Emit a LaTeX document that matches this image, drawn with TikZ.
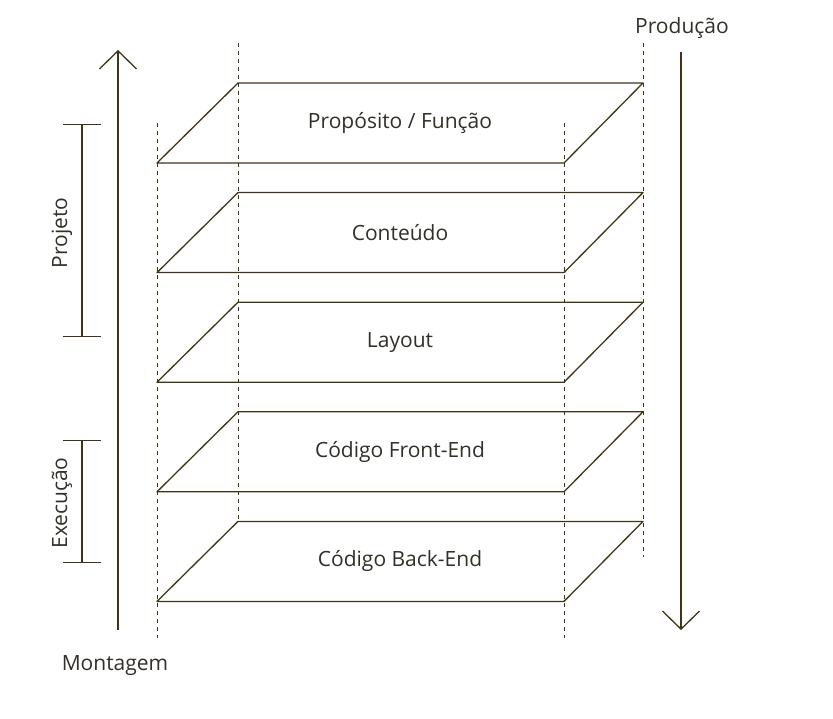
\documentclass[tikz,border=0pt]{standalone}
\usepackage{fontspec}
\setmainfont{Open Sans}
\usetikzlibrary{arrows.meta}
\definecolor{linec}{RGB}{62,52,22}
\definecolor{textc}{RGB}{50,47,40}

\begin{document}
\begin{tikzpicture}[x=1pt,y=-1pt,
    layer/.style={draw=linec,line width=1.3pt,line join=round},
    guide/.style={draw=linec,line width=1pt,dash pattern=on 4pt off 4pt},
    lbl/.style={text=textc,font=\fontsize{21}{24}\selectfont},
    axis/.style={draw=linec,line width=1.3pt,-{Straight Barb[length=18pt,width=37pt]}},
    span/.style={draw=linec,line width=1.3pt,{Bar[width=38pt]}-{Bar[width=38pt]}}]
  \useasboundingbox (0,0) rectangle (833,719);
  % vertical guides
  \draw[guide] (157,123) -- (157,638);
  \draw[guide] (238,43) -- (238,521);
  \draw[guide] (564,123) -- (564,638);
  \draw[guide] (643,43) -- (643,557);
  % layers
  \foreach \t [count=\i from 0] in {Propósito / Função, Conteúdo, Layout, Código Front-End, Código Back-End}{
    \pgfmathsetmacro\yt{83+109.6*\i}
    \draw[layer] (238,\yt) -- (643,\yt) -- (564,\yt+80) -- (157,\yt+80) -- cycle;
    \node[lbl] (layer\i) at (400,\yt+40) {\t};
  }
  % axes
  \node[lbl] (montagem) at (115,666) {Montagem};
  \node[lbl] (producao) at (682,28) {Produção};
  \coordinate (montA) at (118,630);
  \coordinate (montB) at (118,50);
  \coordinate (prodA) at (681,52);
  \coordinate (prodB) at (681,630);
  \draw[axis] (montA) -- (montB);
  \draw[axis] (prodA) -- (prodB);
  % phases
  \coordinate (projA) at (82,124);
  \coordinate (projB) at (82,337);
  \coordinate (execA) at (82,440);
  \coordinate (execB) at (82,563);
  \draw[span] (projA) -- (projB);
  \draw[span] (execA) -- (execB);
  \node[lbl,rotate=90] (projeto) at (62,233) {Projeto};
  \node[lbl,rotate=90] (execucao) at (62,503) {Execução};
\end{tikzpicture}
\end{document}
